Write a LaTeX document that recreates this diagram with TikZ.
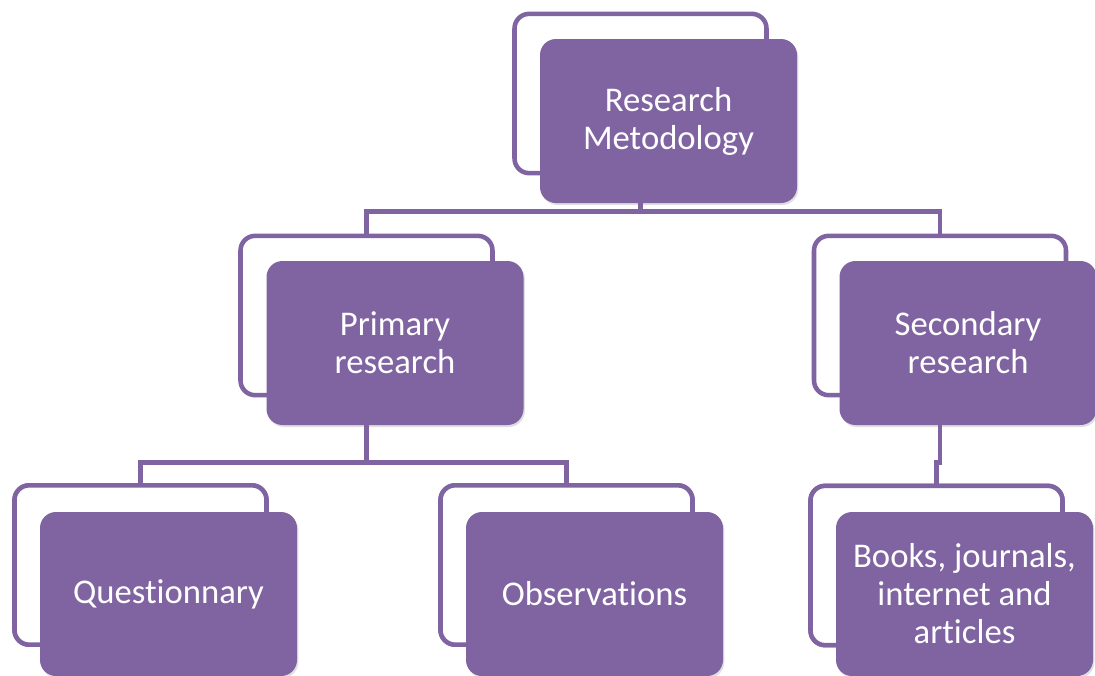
\documentclass[tikz,border=0pt]{standalone}
\usepackage{fontspec}
\setmainfont{Carlito}[Ligatures={NoCommon}]
\usetikzlibrary{shadows}
\definecolor{pur}{HTML}{8064A2}
\begin{document}
\begin{tikzpicture}[x=0.75pt,y=-0.75pt,
  front/.style={rectangle, rounded corners=12pt, fill=pur, text=white,
    minimum width=192.75pt, minimum height=123pt, inner sep=0pt, align=center,
    font=\fontsize{26}{28.5}\selectfont,
    drop shadow={opacity=0.25, shadow xshift=1pt, shadow yshift=-1.5pt}},
  back/.style={rectangle, rounded corners=11pt, draw=pur, line width=3.4pt, fill=white,
    minimum width=189pt, minimum height=119.5pt, inner sep=0pt},
  conn/.style={draw=pur, line width=3.6pt}]
\useasboundingbox (0,0) rectangle (1095,675);
% back frames
\node[back] (rmb) at (640.5,93.5) {};
\node[back] (prb) at (366.5,315.5) {};
\node[back] (srb) at (940,315.5) {};
\node[back] (qub) at (140.5,565) {};
\node[back] (obb) at (566.5,565) {};
\node[back] (bkb) at (936.5,565.5) {};
% front boxes
\node[front] (rm) at (668.5,121) {Research\\Metodology};
\node[front] (pr) at (395,343) {Primary\\research};
\node[front] (sr) at (968,343) {Secondary\\research};
% connectors
\draw[conn] (rmb.center |- rm.south) -- ++(0,8) -| (prb.north);
\draw[conn] (rmb.center |- rm.south) -- ++(0,8) -| (srb.north);
\draw[conn] (prb.center |- pr.south) -- ++(0,37) -| (qub.north);
\draw[conn] (prb.center |- pr.south) -- ++(0,37) -| (obb.north);
\draw[conn] (srb.center |- sr.south) -- ++(0,37) -| (bkb.north);
% bottom row
\node[back] at (qub) {};
\node[back] at (obb) {};
\node[back] at (bkb) {};
\node[front] (qu) at (168.5,594) {Questionnary};
\node[front] (ob) at (594.5,594) {Observations};
\node[front] (bk) at (964.5,594) {Books, journals,\\internet and\\articles};
\end{tikzpicture}
\end{document}
